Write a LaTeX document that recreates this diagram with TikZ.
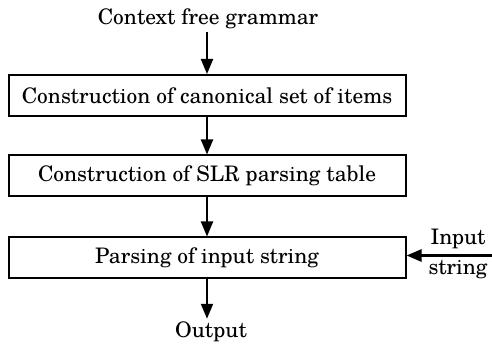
\documentclass[tikz,border=0pt]{standalone}
\usepackage{fontspec}
\setmainfont{TeX Gyre Schola}
\usetikzlibrary{arrows.meta}
\begin{document}
\begin{tikzpicture}[x=1pt,y=-1pt,
  every node/.style={font=\fontsize{21.4}{24}\selectfont},
  stagebox/.style={draw,line width=2pt,minimum width=397pt,minimum height=41pt,inner sep=0pt},
  lbl/.style={inner sep=3pt},
  arr/.style={line width=2pt,-{Triangle[length=15pt,width=12pt]}}]
\useasboundingbox (0,0) rectangle (492,344);
\node[lbl] (cfg) at (208,19) {Context free grammar};
\node[stagebox] (b1) at (207,95.5) {Construction of canonical set of items};
\node[stagebox] (b2) at (207,176) {Construction of SLR parsing table};
\node[stagebox] (b3) at (207,258) {Parsing of input string};
\node[lbl] (out) at (211,332) {Output};
\node[lbl] (inp) at (458,239) {Input};
\node[lbl] (str) at (458,270) {string};
\coordinate (src) at (492,255.5);
\draw[arr] (cfg.south -| b1.north) -- (b1.north);
\draw[arr] (b1.south) -- (b2.north);
\draw[arr] (b2.south) -- (b3.north);
\draw[arr] (b3.south) -- (b3.south |- out.north);
\draw[arr,line width=2.5pt] (src) -- (src -| b3.east);
\end{tikzpicture}
\end{document}
